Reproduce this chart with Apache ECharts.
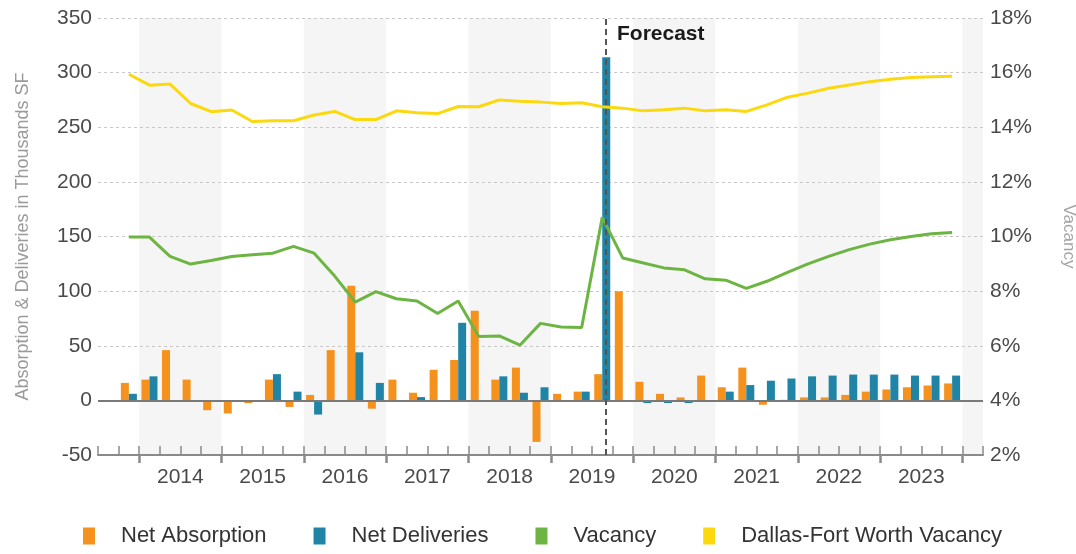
<!DOCTYPE html>
<html>
<head>
<meta charset="utf-8">
<script src="https://cdn.jsdelivr.net/npm/echarts@6/dist/echarts.min.js"></script>
<style>
  html, body { margin: 0; padding: 0; background: #fff; }
  #chart { width: 1076px; height: 554px; }
</style>
</head>
<body>
<div id="chart"></div>
<script>
// quarterly slots, first and last are empty padding quarters
const quarters = [
  '2013 Q3', '2013 Q4',
  '2014 Q1', '2014 Q2', '2014 Q3', '2014 Q4',
  '2015 Q1', '2015 Q2', '2015 Q3', '2015 Q4',
  '2016 Q1', '2016 Q2', '2016 Q3', '2016 Q4',
  '2017 Q1', '2017 Q2', '2017 Q3', '2017 Q4',
  '2018 Q1', '2018 Q2', '2018 Q3', '2018 Q4',
  '2019 Q1', '2019 Q2', '2019 Q3', '2019 Q4',
  '2020 Q1', '2020 Q2', '2020 Q3', '2020 Q4',
  '2021 Q1', '2021 Q2', '2021 Q3', '2021 Q4',
  '2022 Q1', '2022 Q2', '2022 Q3', '2022 Q4',
  '2023 Q1', '2023 Q2', '2023 Q3', '2023 Q4',
  '2024 Q1'
]
const years = ['2014', '2015', '2016', '2017', '2018', '2019', '2020', '2021', '2022', '2023']
const forecastStart = '2019 Q3'

// thousands SF
const netAbsorption = [
  null, 16,
  19, 46, 19, -9,
  -12, -2.5, 19, -6,
  5, 46, 105, -7.6,
  19, 7, 28, 37,
  82, 19, 30, -38,
  6, 8, 24, 100,
  17, 6, 2.7, 22.7,
  12, 30, -4, 0.5,
  2.7, 2.7, 5, 8,
  10, 12, 13.6, 15.5,
  null
]
const netDeliveries = [
  null, 6,
  22, 0, 0, -1,
  0, 0, 24, 8,
  -13, 0, 44, 16,
  0, 3, 0, 71,
  0, 22, 7, 12,
  0, 8, 314, 0,
  -2.4, -2.4, -2.4, 0,
  8, 14, 18, 20,
  22, 22.7, 23.6, 23.6,
  23.6, 22.7, 22.7, 22.7,
  null
]
// percent
const vacancy = [
  null, 9.98,
  9.98, 9.27, 8.99, 9.12,
  9.27, 9.33, 9.39, 9.64,
  9.39, 8.55, 7.6, 7.98,
  7.72, 7.64, 7.18, 7.64,
  6.34, 6.36, 6.02, 6.82,
  6.69, 6.67, 10.7, 9.21,
  9.03, 8.85, 8.78, 8.45,
  8.4, 8.1, 8.36, 8.69,
  9.0, 9.27, 9.52, 9.72,
  9.88, 10.0, 10.1, 10.15,
  null
]
const dfwVacancy = [
  null, 15.94,
  15.54, 15.58, 14.87, 14.57,
  14.63, 14.21, 14.24, 14.24,
  14.45, 14.58, 14.28, 14.28,
  14.6, 14.53, 14.5, 14.76,
  14.75, 15.0, 14.95, 14.92,
  14.87, 14.9, 14.75, 14.7,
  14.6, 14.64, 14.7, 14.6,
  14.64, 14.58, 14.82, 15.1,
  15.25, 15.43, 15.55, 15.67,
  15.76, 15.82, 15.85, 15.87,
  null
]

// year positions on the quarter-slot scale (slot i spans [i, i+1])
const firstYearSlot = quarters.indexOf('2014 Q1')
const yearBounds = years.map((y, i) => firstYearSlot + i * 4).concat(firstYearSlot + years.length * 4)
const yearCenters = years.map((y, i) => firstYearSlot + i * 4 + 2)
const shadedBands = []
for (let i = 0; i < yearBounds.length; i += 2) {
  shadedBands.push([{ xAxis: yearBounds[i] }, { xAxis: Math.min(yearBounds[i] + 4, quarters.length) }])
}

const font = '"Liberation Sans", Arial, sans-serif'
const axisColor = '#8a8a8a'

const option = {
  backgroundColor: '#fff',
  animation: false,
  textStyle: { fontFamily: font },
  title: {
    text: 'Forecast',
    left: 612,
    top: 19,
    textStyle: { fontFamily: font, fontSize: 21, fontWeight: 'bold', color: '#1a1a1a' }
  },
  legend: {
    left: 78,
    bottom: 2,
    itemWidth: 12,
    itemHeight: 17,
    itemGap: 47,
    icon: 'rect',
    textStyle: { fontFamily: font, fontSize: 22, color: '#333', padding: [0, 0, 0, 21] },
    data: ['Net Absorption', 'Net Deliveries', 'Vacancy', 'Dallas-Fort Worth Vacancy']
  },
  grid: { left: 98, top: 18, width: 885, height: 437, outerBoundsMode: 'none', containLabel: false },
  xAxis: [
    {
      type: 'category',
      data: quarters,
      boundaryGap: true,
      z: 3,
      axisLine: { show: true, onZero: false, lineStyle: { color: axisColor, width: 2 } },
      axisTick: { show: true, inside: true, interval: 0, length: 9, lineStyle: { color: axisColor, width: 1.5 } },
      axisLabel: { show: false },
      splitLine: { show: false }
    },
    {
      type: 'value',
      min: 0,
      max: quarters.length,
      position: 'bottom',
      z: 3,
      axisLine: { show: false, onZero: false },
      axisTick: { show: true, customValues: yearBounds, length: 8, lineStyle: { color: axisColor, width: 2.5 } },
      axisLabel: {
        customValues: yearCenters,
        formatter: (v) => years[(v - firstYearSlot - 2) / 4],
        color: '#4a4a4a',
        fontSize: 21,
        margin: 12
      },
      splitLine: { show: false }
    }
  ],
  yAxis: [
    {
      type: 'value',
      min: -50,
      max: 350,
      interval: 50,
      name: 'Absorption & Deliveries in Thousands SF',
      nameLocation: 'middle',
      nameGap: 66,
      nameTextStyle: { color: '#9a9a9a', fontSize: 18, fontFamily: font },
      axisLine: { show: false },
      axisTick: { show: false },
      axisLabel: { color: '#4a4a4a', fontSize: 21, margin: 6 },
      splitLine: { lineStyle: { color: '#c8c8c8', type: [3, 3] } }
    },
    {
      type: 'value',
      min: 2,
      max: 18,
      interval: 2,
      name: 'Vacancy',
      nameLocation: 'middle',
      nameGap: 77,
      nameRotate: -90,
      nameTextStyle: { color: '#a5a5a5', fontSize: 17, fontFamily: font },
      axisLine: { show: false },
      axisTick: { show: false },
      axisLabel: { color: '#4a4a4a', fontSize: 21, margin: 7, formatter: '{value}%' },
      splitLine: { show: false }
    }
  ],
  series: [
    {
      name: 'bands',
      type: 'line',
      xAxisIndex: 1,
      yAxisIndex: 0,
      data: [],
      z: -1,
      silent: true,
      markArea: {
        silent: true,
        z: -1,
        itemStyle: { color: '#f5f5f5' },
        data: shadedBands
      }
    },
    {
      name: 'Net Absorption',
      type: 'bar',
      data: netAbsorption,
      barWidth: 8,
      barGap: '0%',
      itemStyle: { color: '#f5921e' },
      markLine: {
        silent: true,
        symbol: 'none',
        label: { show: false },
        lineStyle: { color: '#7a7a7a', width: 2, type: 'solid' },
        data: [{ yAxis: 0 }]
      }
    },
    {
      name: 'Net Deliveries',
      type: 'bar',
      data: netDeliveries,
      barWidth: 8,
      barGap: '0%',
      itemStyle: { color: '#1f84a5' },
      markLine: {
        silent: true,
        symbol: 'none',
        label: { show: false },
        lineStyle: { color: '#555', width: 2, type: [6, 4] },
        data: [{ xAxis: forecastStart }]
      }
    },
    {
      name: 'Vacancy',
      type: 'line',
      yAxisIndex: 1,
      data: vacancy,
      symbol: 'none',
      itemStyle: { color: '#6db543' },
      lineStyle: { color: '#6db543', width: 3 }
    },
    {
      name: 'Dallas-Fort Worth Vacancy',
      type: 'line',
      yAxisIndex: 1,
      data: dfwVacancy,
      symbol: 'none',
      itemStyle: { color: '#fcd80f' },
      lineStyle: { color: '#fcd80f', width: 3 }
    }
  ]
}

const chartInstance = echarts.init(document.getElementById('chart'))
chartInstance.setOption(option)

window.addEventListener('resize', () => {
  chartInstance.resize()
})
</script>
</body>
</html>
